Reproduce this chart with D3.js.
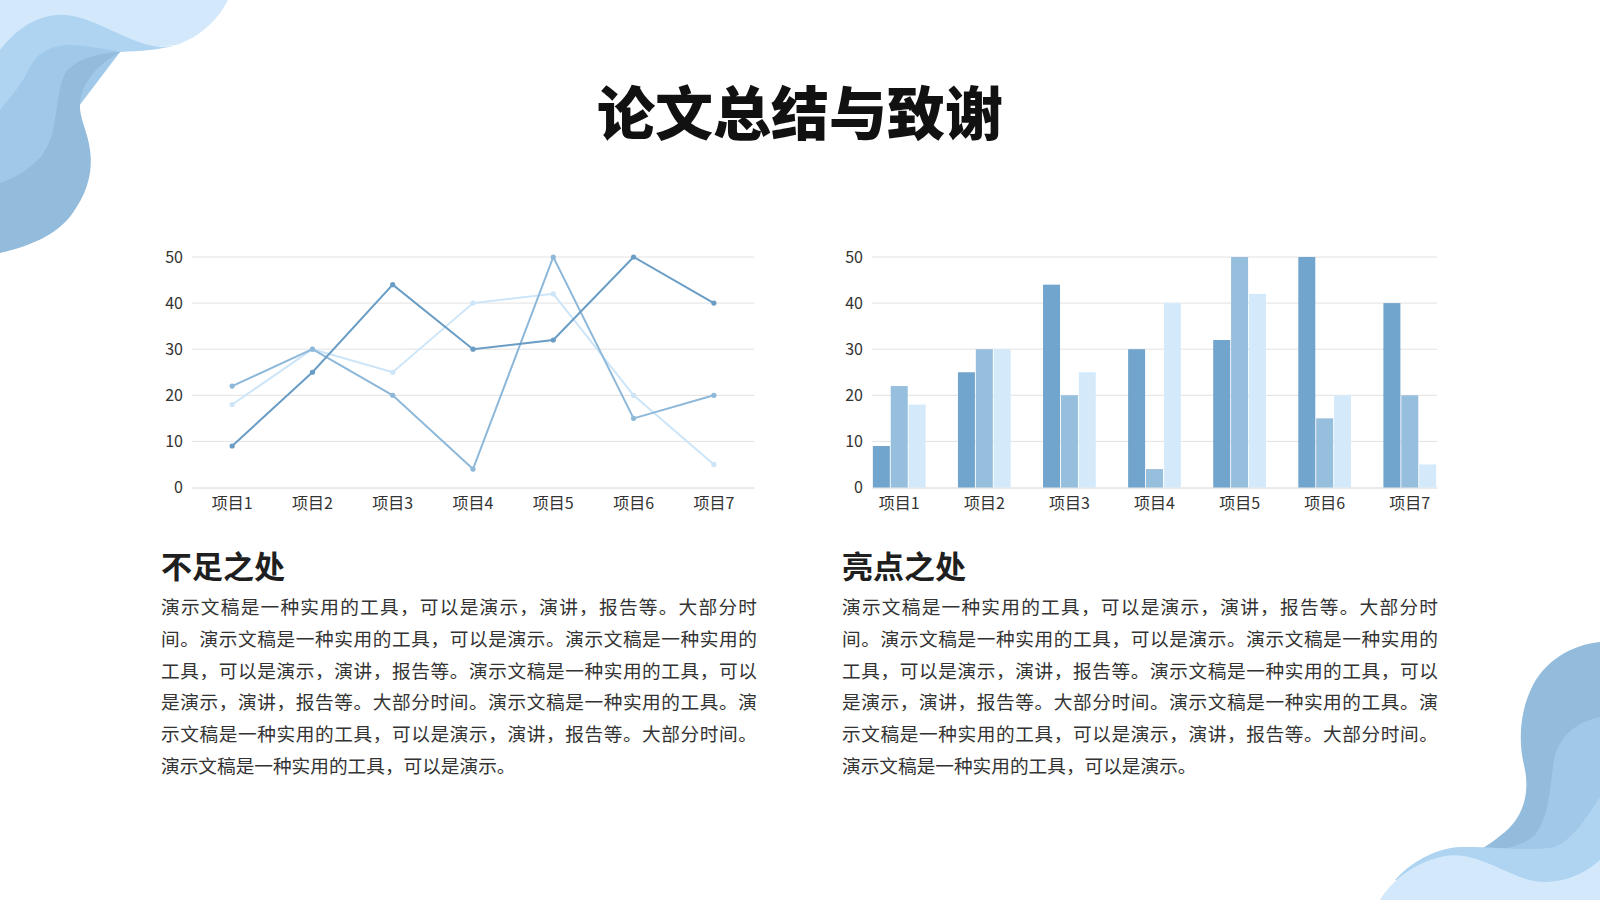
<!DOCTYPE html>
<html>
<head>
<meta charset="utf-8">
<script src="https://cdn.jsdelivr.net/npm/d3@7"></script>
<style>
html, body { margin: 0; padding: 0; background: #fff; }
svg { display: block; font-family: "Noto Sans CJK SC", "Noto Sans", sans-serif; }
</style>
</head>
<body>
<svg id="slide" width="1600" height="900"></svg>
<script>
var categories = ["项目1", "项目2", "项目3", "项目4", "项目5", "项目6", "项目7"];
var series1 = [9, 25, 44, 30, 32, 50, 40];
var series2 = [22, 30, 20, 4, 50, 15, 20];
var series3 = [18, 30, 25, 40, 42, 20, 5];
var yTicks = [0, 10, 20, 30, 40, 50];

var title = "论文总结与致谢";
var headings = ["不足之处", "亮点之处"];
var bodyLines = [
    "演示文稿是一种实用的工具，可以是演示，演讲，报告等。大部分时",
    "间。演示文稿是一种实用的工具，可以是演示。演示文稿是一种实用的",
    "工具，可以是演示，演讲，报告等。演示文稿是一种实用的工具，可以",
    "是演示，演讲，报告等。大部分时间。演示文稿是一种实用的工具。演",
    "示文稿是一种实用的工具，可以是演示，演讲，报告等。大部分时间。",
    "演示文稿是一种实用的工具，可以是演示。"
];

var lineColors = ["#6a9dc5", "#8db8d9", "#cde5f8"];
var barColors = ["#71a5cd", "#96bedd", "#d4eafb"];
var allSeries = [series1, series2, series3];

var svg = d3.select("#slide");

// corner decorations
var waves = svg.append("g").attr("class", "waves");
var topLeft = [
    ["#d3e9fb", "M0,0 L228,0 C218,20 200,37 176,45 L0,60 Z"],
    ["#aed4f2", "M0,50 C12,35 30,17 57,15 C85,13 115,35 145,44 C158,48 168,47 176,45 C160,50 140,51 120,52 L0,150 Z"],
    ["#a0c8e8", "M0,110 C8,100 22,85 30,67 C37,55 45,47 67,45 C85,45 105,49 120,52 L0,210 Z"],
    ["#93bcdc", "M0,253 C35,245 62,232 76,208 C88,190 93,170 90,150 C88,132 79,118 80,104 C81,85 95,66 120,52 C100,53 78,58 66,72 C58,85 58,110 52,135 C45,158 25,175 0,183 Z"]
];
var bottomRight = [
    ["#93bcdc", "M1600,642 C1570,645 1545,662 1533,685 C1520,710 1518,740 1524,765 C1530,790 1525,815 1505,832 C1495,840 1488,845 1480,850 L1600,900 Z"],
    ["#a0c8e8", "M1600,717 C1575,722 1558,738 1554,760 C1550,785 1550,815 1535,835 C1520,848 1500,850 1480,852 L1600,900 Z"],
    ["#aed4f2", "M1395,880 C1415,858 1440,848 1460,847 C1490,846 1530,852 1555,847 C1575,838 1588,815 1600,797 L1600,900 Z"],
    ["#d3e9fb", "M1380,900 C1392,880 1415,862 1445,856 C1470,852 1490,865 1520,877 C1545,887 1575,882 1600,860 L1600,900 Z"]
];
waves.selectAll("path.tl").data(topLeft).enter().append("path")
    .attr("class", "tl").attr("d", function(d) { return d[1]; }).attr("fill", function(d) { return d[0]; });
waves.selectAll("path.br").data(bottomRight).enter().append("path")
    .attr("class", "br").attr("d", function(d) { return d[1]; }).attr("fill", function(d) { return d[0]; });

// title
svg.append("text")
    .attr("x", 800).attr("y", 135)
    .attr("text-anchor", "middle")
    .style("font-size", "58px").style("font-weight", 900).style("fill", "#111")
    .text(title);

var plotTop = 257, plotBottom = 487.5;
var y = d3.scaleLinear().domain([0, 50]).range([plotBottom, plotTop]);

function drawAxes(g, x, left, right) {
    g.append("g").selectAll("line")
        .data(yTicks.slice(1))
        .enter().append("line")
        .attr("x1", left).attr("x2", right)
        .attr("y1", function(d) { return y(d); }).attr("y2", function(d) { return y(d); })
        .attr("stroke", "#e2e2e2").attr("stroke-width", 1);

    var ya = g.append("g")
        .attr("transform", "translate(" + left + ",0)")
        .call(d3.axisLeft(y).tickValues(yTicks).tickSize(0).tickPadding(9));
    ya.select(".domain").remove();

    var xa = g.append("g")
        .attr("transform", "translate(0," + plotBottom + ")")
        .call(d3.axisBottom(x).tickSize(0).tickSizeOuter(0).tickPadding(10));
    xa.select(".domain").attr("stroke", "#d6d6d6");

    g.selectAll(".tick text")
        .style("font-family", "'Noto Sans CJK SC', sans-serif")
        .style("font-size", "16px")
        .style("fill", "#333");
}

// line chart
var lineLeft = 192, lineRight = 754;
var xLine = d3.scaleBand().domain(categories).range([lineLeft, lineRight]);
var lineG = svg.append("g");
drawAxes(lineG, xLine, lineLeft, lineRight);

var line = d3.line()
    .x(function(d, i) { return xLine(categories[i]) + xLine.bandwidth() / 2; })
    .y(function(d) { return y(d); });

[2, 1, 0].forEach(function(s) {
    lineG.append("path")
        .datum(allSeries[s])
        .attr("d", line)
        .attr("fill", "none")
        .attr("stroke", lineColors[s])
        .attr("stroke-width", 2);
    lineG.selectAll(".dot" + s)
        .data(allSeries[s])
        .enter().append("circle")
        .attr("class", "dot" + s)
        .attr("cx", function(d, i) { return xLine(categories[i]) + xLine.bandwidth() / 2; })
        .attr("cy", function(d) { return y(d); })
        .attr("r", 2.6)
        .attr("fill", lineColors[s]);
});

// bar chart
var barLeft = 872, barRight = 1437;
var xBar = d3.scaleBand().domain(categories).range([barLeft, barRight]).paddingInner(0.38).paddingOuter(0.01);
var xSub = d3.scaleBand().domain([0, 1, 2]).range([0, xBar.bandwidth()]).paddingInner(0.05);
var barG = svg.append("g");
drawAxes(barG, xBar, barLeft, barRight);

var groups = barG.selectAll(".grp")
    .data(categories)
    .enter().append("g")
    .attr("class", "grp")
    .attr("transform", function(d) { return "translate(" + xBar(d) + ",0)"; });

groups.selectAll("rect")
    .data(function(d, i) { return allSeries.map(function(s, k) { return { k: k, v: s[i] }; }); })
    .enter().append("rect")
    .attr("x", function(d) { return xSub(d.k); })
    .attr("width", xSub.bandwidth())
    .attr("y", function(d) { return y(d.v); })
    .attr("height", function(d) { return plotBottom - y(d.v); })
    .attr("fill", function(d) { return barColors[d.k]; });

// text blocks
[161, 842].forEach(function(x0, c) {
    svg.append("text")
        .attr("x", x0).attr("y", 578)
        .style("font-size", "31px").style("font-weight", 700).style("fill", "#1f1f1f")
        .text(headings[c]);

    svg.append("g").selectAll("text")
        .data(bodyLines)
        .enter().append("text")
        .attr("x", x0)
        .attr("y", function(d, i) { return 614.3 + i * 31.64; })
        .attr("textLength", function(d, i) { return i < bodyLines.length - 1 ? 596 : null; })
        .attr("lengthAdjust", "spacing")
        .style("font-size", "18.67px").style("fill", "#333")
        .text(function(d) { return d; });
});
</script>
</body>
</html>
